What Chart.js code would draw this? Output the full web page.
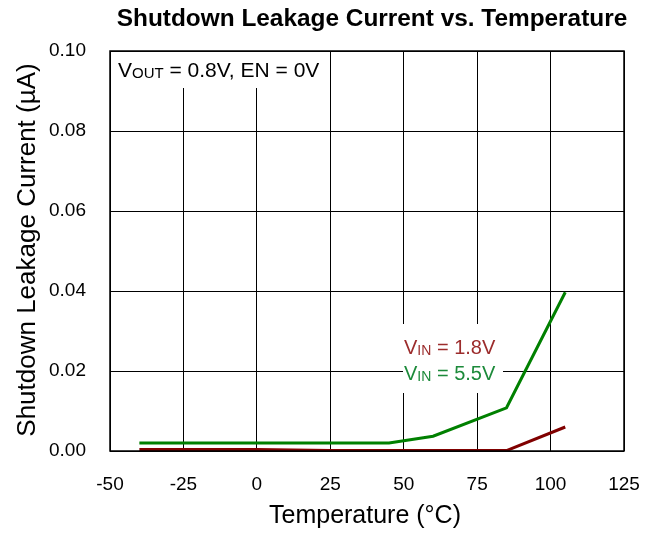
<!DOCTYPE html>
<html>
<head>
<meta charset="utf-8">
<script src="https://cdn.jsdelivr.net/npm/chart.js@4/dist/chart.umd.min.js"></script>
<style>
  html, body { margin: 0; padding: 0; background: #fff; }
  #wrap { width: 658px; height: 534px; position: relative; }
</style>
</head>
<body>
<div id="wrap"><canvas id="chart" width="658" height="534"></canvas></div>
<script>
// 온도 (°C)
const temps = [-40, 0, 25, 45, 60, 85, 105];
// 누설전류 (µA)
const vin18 = [0.0004, 0.0004, 0.0001, 0.0001, 0.0001, 0.0001, 0.0060];
const vin55 = [0.0020, 0.0020, 0.0020, 0.0020, 0.0037, 0.0108, 0.0397];
const xTicks = [-50, -25, 0, 25, 50, 75, 100, 125];
const yTicks = [0.00, 0.02, 0.04, 0.06, 0.08, 0.10];

const FONT = "'Liberation Sans', Arial, sans-serif";
const RED = "#800000", GREEN = "#008000";

// V + 아래첨자 텍스트 그리기
function subText(ctx, x, y, main, sub, rest, size, color) {
  ctx.fillStyle = color;
  ctx.textBaseline = "alphabetic";
  ctx.textAlign = "left";
  ctx.font = `${size}px ${FONT}`;
  ctx.fillText(main, x, y);
  x += ctx.measureText(main).width;
  ctx.font = `${Math.round(size * 0.72)}px ${FONT}`;
  ctx.fillText(sub, x, y + 1);
  x += ctx.measureText(sub).width;
  ctx.font = `${size}px ${FONT}`;
  ctx.fillText(rest, x, y);
}

const labels = {
  id: "labels",
  beforeDatasetsDraw(chart) {
    const ctx = chart.ctx;
    ctx.save();
    // 주석 박스 (격자선 가림)
    ctx.fillStyle = "#fff";
    ctx.fillRect(112, 52, 216, 36);
    ctx.fillRect(403, 324, 100, 69);
    ctx.restore();
  },
  afterDraw(chart) {
    const ctx = chart.ctx;
    const a = chart.chartArea;
    ctx.save();
    ctx.fillStyle = "#000";
    ctx.textAlign = "center";
    ctx.textBaseline = "alphabetic";
    ctx.font = `bold 24.4px ${FONT}`;
    ctx.fillText("Shutdown Leakage Current vs. Temperature", 372, 26);
    ctx.font = `25px ${FONT}`;
    ctx.fillText("Temperature (°C)", 365, 523);
    ctx.save();
    ctx.translate(35, 250);
    ctx.rotate(-Math.PI / 2);
    ctx.font = `26px ${FONT}`;
    ctx.fillText("Shutdown Leakage Current (µA)", 0, 0);
    ctx.restore();

    subText(ctx, 118, 77, "V", "OUT", " = 0.8V, EN = 0V", 21, "#000");
    subText(ctx, 404, 354, "V", "IN", " = 1.8V", 20, "#9c2c2c");
    subText(ctx, 404, 380, "V", "IN", " = 5.5V", 20, "#1c8a3a");

    ctx.strokeStyle = "#000";
    ctx.lineWidth = 1.5;
    ctx.strokeRect(a.left, a.top, a.right - a.left, a.bottom - a.top);
    ctx.restore();
  }
};

new Chart(document.getElementById("chart"), {
  type: "line",
  data: {
    datasets: [
      { label: "VIN = 5.5V", data: temps.map((t, i) => ({ x: t, y: vin55[i] })),
        borderColor: GREEN, borderWidth: 3, pointRadius: 0, tension: 0 },
      { label: "VIN = 1.8V", data: temps.map((t, i) => ({ x: t, y: vin18[i] })),
        borderColor: RED, borderWidth: 3, pointRadius: 0, tension: 0 }
    ]
  },
  options: {
    responsive: false,
    animation: false,
    layout: { padding: { top: 51, right: 34, left: 0, bottom: 0 } },
    plugins: { legend: { display: false }, tooltip: { enabled: false } },
    scales: {
      x: {
        type: "linear", min: -50, max: 125,
        afterBuildTicks: (s) => { s.ticks = xTicks.map(v => ({ value: v })); },
        afterFit: (s) => { s.height = 83; s.paddingLeft = 0; s.paddingRight = 0; },
        grid: { color: "#000", lineWidth: 1, drawTicks: false },
        border: { display: false },
        ticks: { color: "#000", font: { size: 19, family: FONT }, padding: 22 }
      },
      y: {
        min: 0, max: 0.1,
        afterBuildTicks: (s) => { s.ticks = yTicks.map(v => ({ value: v })); },
        afterFit: (s) => { s.width = 110; s.paddingTop = 0; s.paddingBottom = 0; },
        grid: { color: "#000", lineWidth: 1, drawTicks: false },
        border: { display: false },
        ticks: { color: "#000", font: { size: 19, family: FONT }, padding: 24,
                 callback: (v) => v.toFixed(2) }
      }
    }
  },
  plugins: [labels]
});
</script>
</body>
</html>
